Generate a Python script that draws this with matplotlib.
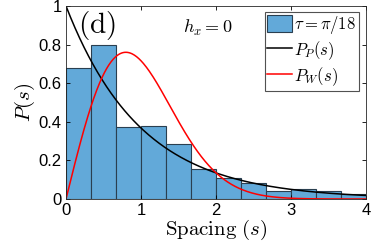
import numpy as np
import matplotlib
matplotlib.use('Agg')
import matplotlib.pyplot as plt

plt.rcParams['mathtext.fontset'] = 'cm'
plt.rcParams['font.family'] = 'Liberation Sans'

# histogram of level spacings (bin width 1/3)
bin_edges = np.arange(0, 4.01, 1/3.)
heights = [0.68, 0.80, 0.375, 0.38, 0.283, 0.155, 0.111, 0.081, 0.043, 0.050, 0.041, 0.024]

s = np.linspace(0, 4, 400)
P_P = np.exp(-s)                                  # Poisson
P_W = np.pi / 2 * s * np.exp(-np.pi * s**2 / 4)   # Wigner surmise

fig = plt.figure(figsize=(3.74, 2.49), dpi=100)
ax = fig.add_axes([66/374., 1 - 199/249., 300/374., 193/249.])

b = ax.bar(bin_edges[:-1], heights, width=1/3., align='edge', color='#62a9d9',
           edgecolor='#2a3f50', linewidth=0.8, label=r'$\tau=\pi/18$')
l1, = ax.plot(s, P_P, color='k', lw=1.1, label=r'$P_P(s)$')
l2, = ax.plot(s, P_W, color='r', lw=1.1, label=r'$P_W(s)$')

ax.set_xlim(0, 4)
ax.set_ylim(0, 1)
ax.set_xticks([0, 1, 2, 3, 4])
ax.set_yticks([0, 0.2, 0.4, 0.6, 0.8, 1])
ax.set_yticklabels(['0', '0.2', '0.4', '0.6', '0.8', '1'])
ax.tick_params(direction='in', top=True, right=True, labelsize=12, length=3, width=0.6, pad=3)
for sp in ax.spines.values():
    sp.set_linewidth(0.6)
    sp.set_color('#262626')

ax.set_xlabel(r'$\mathrm{Spacing}\ (s)$', fontsize=15, labelpad=0)
ax.set_ylabel(r'$P(s)$', fontsize=15, labelpad=1)

ax.text(0.04, 0.985, r'$\mathrm{(d)}$', transform=ax.transAxes, fontsize=21, va='top', ha='left')
ax.text(0.39, 0.94, r'$h_x=0$', transform=ax.transAxes, fontsize=13, va='top', ha='left')

leg = ax.legend([b, l1, l2], [r'$\tau=\pi/18$', r'$P_P(s)$', r'$P_W(s)$'],
                loc='upper right', bbox_to_anchor=(0.975, 0.97), fontsize=12, frameon=True,
                fancybox=False, edgecolor='#262626', handlelength=1.5, handleheight=1.2,
                handletextpad=0.1, borderpad=0.15, labelspacing=0.2, borderaxespad=0)
leg.get_frame().set_linewidth(0.8)

fig.savefig('out.png', dpi=100)
